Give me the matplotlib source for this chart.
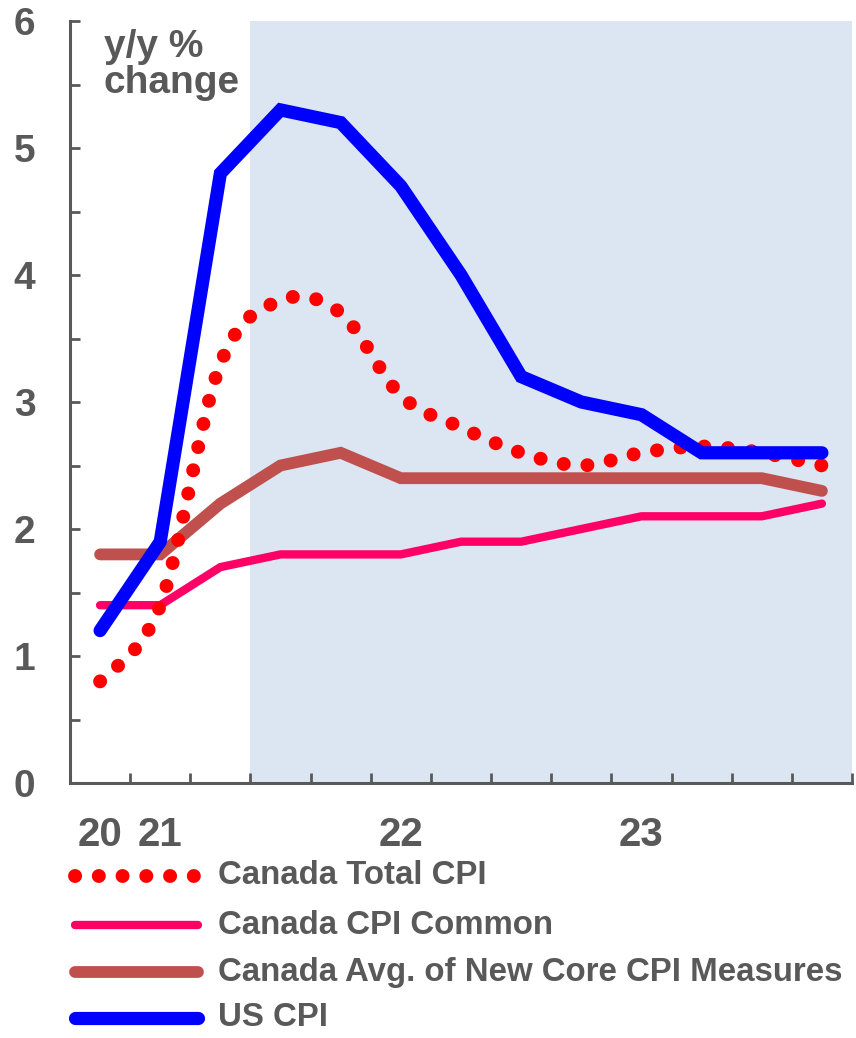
import matplotlib
matplotlib.use("Agg")
import matplotlib.pyplot as plt
from matplotlib import font_manager
from matplotlib.path import Path
from matplotlib.patches import PathPatch
from matplotlib.lines import Line2D
import numpy as np

quarters = ["20", "21", "", "", "", "22", "", "", "", "23", "", "", ""]
canada_total = [0.8, 1.4, 3.3, 3.8, 3.7, 3.05, 2.8, 2.6, 2.5, 2.6, 2.65, 2.6, 2.5]
canada_common = [1.4, 1.4, 1.7, 1.8, 1.8, 1.8, 1.9, 1.9, 2.0, 2.1, 2.1, 2.1, 2.2]
canada_core = [1.8, 1.8, 2.2, 2.5, 2.6, 2.4, 2.4, 2.4, 2.4, 2.4, 2.4, 2.4, 2.3]
us_cpi = [1.2, 1.9, 4.8, 5.3, 5.2, 4.7, 4.0, 3.2, 3.0, 2.9, 2.6, 2.6, 2.6]
forecast_start = 3  # first shaded quarter

gray = "#595959"
c_red, c_pink, c_brown, c_blue = "#FF0000", "#FF0066", "#C0504D", "#0000FF"
dots = (0, (0.01, 1.7))

try:
    font_manager.findfont("Liberation Sans Narrow", fallback_to_default=False)
    narrow = "Liberation Sans Narrow"
    leg_size = 29
except Exception:
    narrow = "Liberation Sans"
    leg_size = 23.8

plt.rcParams["font.family"] = "Liberation Sans"
plt.rcParams["font.weight"] = "bold"

W, H = 856, 1038
fig = plt.figure(figsize=(W / 100, H / 100), dpi=100)
ax = fig.add_axes([70 / W, 1 - 783 / H, (852 - 70) / W, (783 - 21) / H])

x = np.arange(len(quarters))
ax.axvspan(forecast_start - 0.5, len(quarters) - 0.5, color="#DCE6F2", lw=0, zorder=0)

ax.plot(x, canada_common, color=c_pink, lw=6, solid_capstyle="round", solid_joinstyle="miter", zorder=2)
ax.plot(x, canada_core, color=c_brown, lw=8.5, solid_capstyle="round", solid_joinstyle="miter", zorder=3)

# smoothed dotted line for Canada total CPI (bezier through the points)
pts = np.column_stack([x, canada_total]).astype(float)
verts = [pts[0]]
codes = [Path.MOVETO]
n = len(pts)
for i in range(n - 1):
    p_prev = pts[max(i - 1, 0)]
    p_next2 = pts[min(i + 2, n - 1)]
    c1 = pts[i] + (pts[i + 1] - p_prev) / 6
    c2 = pts[i + 1] - (p_next2 - pts[i]) / 6
    verts += [c1, c2, pts[i + 1]]
    codes += [Path.CURVE4] * 3
ax.add_patch(PathPatch(Path(verts, codes), fill=False, edgecolor=c_red, lw=10,
                       linestyle=dots, capstyle="round", zorder=4))

ax.plot(x, us_cpi, color=c_blue, lw=9.5, solid_capstyle="round", solid_joinstyle="miter", zorder=5)

ax.set_xlim(-0.5, len(quarters) - 0.5)
ax.set_ylim(0, 6)
for s in ["top", "right"]:
    ax.spines[s].set_visible(False)
for s in ["left", "bottom"]:
    ax.spines[s].set_color(gray)
    ax.spines[s].set_linewidth(2.2)

ax.set_yticks(np.arange(0, 7, 1))
ax.set_yticks(np.arange(0.5, 6, 1), minor=True)
ax.tick_params(axis="y", which="both", direction="in", length=7, width=2, color=gray,
               labelsize=28, labelcolor=gray, pad=25)
ax.set_xticks(np.arange(-0.5, len(quarters)), labels=[""] * (len(quarters) + 1))
ax.set_xticks(x, labels=quarters, minor=True)
ax.tick_params(axis="x", which="major", direction="in", length=7, width=2, color=gray)
ax.tick_params(axis="x", which="minor", length=0, labelsize=29, labelcolor=gray, pad=24)

ax.text(0.043, 0.99, "y/y %\nchange", transform=ax.transAxes,
        ha="left", va="top", fontsize=28, color=gray, linespacing=1.0)

# legend
rows = [876, 925, 972, 1018]
labels = ["Canada Total CPI", "Canada CPI Common", "Canada Avg. of New Core CPI Measures", "US CPI"]
styles = [
    dict(color=c_red, lw=10, linestyle=dots, dash_capstyle="round"),
    dict(color=c_pink, lw=6, solid_capstyle="round"),
    dict(color=c_brown, lw=8.5, solid_capstyle="round"),
    dict(color=c_blue, lw=9.5, solid_capstyle="round"),
]
for y, lab, st in zip(rows, labels, styles):
    yf = 1 - y / H
    fig.add_artist(Line2D([75 / W, 198 / W], [yf, yf], transform=fig.transFigure, **st))
    fig.text(218 / W, yf, lab, ha="left", va="center", fontsize=leg_size, color=gray,
             family=[narrow, "Liberation Sans"], fontweight="bold")

fig.savefig("out.png", dpi=100)
